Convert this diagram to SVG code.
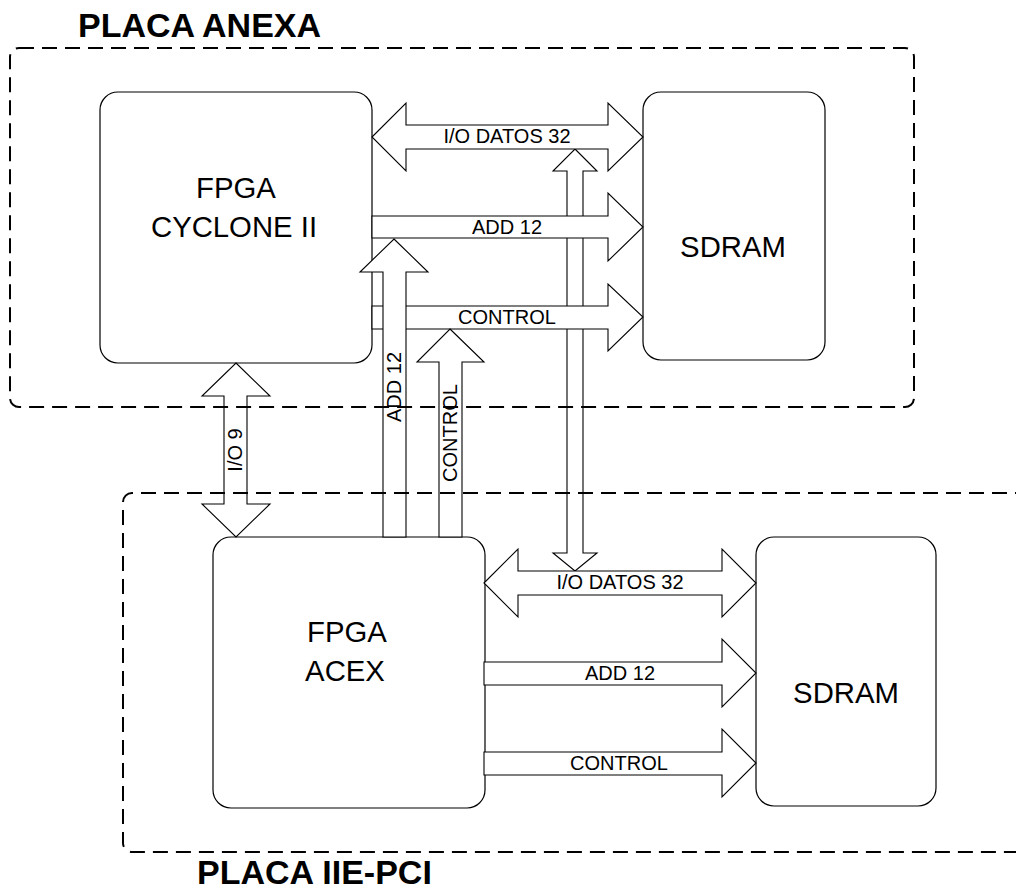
<svg xmlns="http://www.w3.org/2000/svg" width="1016" height="892" viewBox="0 0 1016 892">
<style>
.box{fill:#fff;stroke:#000;stroke-width:1.2}
.arr{fill:#fff;stroke:#000;stroke-width:1.1;stroke-linejoin:miter}
.dash{fill:none;stroke:#000;stroke-width:2;stroke-dasharray:15 8}
.big{font-family:"Liberation Sans",Arial,sans-serif;font-size:29.3px;fill:#000;text-anchor:middle}
.lbl{font-family:"Liberation Sans",Arial,sans-serif;font-size:20px;fill:#000;text-anchor:middle}
.title{font-family:"Liberation Sans",Arial,sans-serif;font-size:34px;font-weight:bold;fill:#000}
</style>
<rect width="1016" height="892" fill="#fff"/>
<g id="fpga-cyclone"><rect class="box" x="100" y="92" width="272" height="271" rx="18"/><text class="big" x="236" y="198">FPGA</text><text class="big" x="234" y="237">CYCLONE II</text></g>
<g id="sdram-top"><rect class="box" x="643" y="92" width="182" height="268" rx="18"/><text class="big" x="733" y="257">SDRAM</text></g>
<g id="fpga-acex"><rect class="box" x="213" y="537" width="272" height="271" rx="18"/><text class="big" x="347" y="642">FPGA</text><text class="big" x="345" y="681">ACEX</text></g>
<g id="sdram-bottom"><rect class="box" x="756" y="537" width="180" height="269" rx="18"/><text class="big" x="846" y="703">SDRAM</text></g>
<g id="connectors">
<polygon class="arr" points="575,149 597,171 583,171 583,553 597,553 575,571 553,553 567,553 567,171 553,171"/>
<polygon class="arr" points="372,137 406,103 406,125 608,125 608,103 643,137 608,171 608,149 406,149 406,171"/>
<polygon class="arr" points="372,216 608,216 608,193 643,227 608,261 608,238 372,238"/>
<polygon class="arr" points="372,306 608,306 608,284 643,317 608,351 608,329 372,329"/>
<polygon class="arr" points="484,583 518,549 518,571 722,571 722,549 756,583 722,617 722,595 518,595 518,617"/>
<polygon class="arr" points="484,662 722,662 722,639 756,673 722,707 722,685 484,685"/>
<polygon class="arr" points="484,752 722,752 722,729 756,763 722,797 722,775 484,775"/>
<polygon class="arr" points="394,239 428,272 406,272 406,537 383,537 383,272 360,272"/>
<polygon class="arr" points="450,329 484,362 462,362 462,537 439,537 439,362 417,362"/>
<polygon class="arr" points="236,363 270,396 247,396 247,504 270,504 236,537 202,504 224,504 224,396 202,396"/>
<text class="lbl" x="507" y="143">I/O DATOS 32</text>
<text class="lbl" x="507" y="234">ADD 12</text>
<text class="lbl" x="507" y="324">CONTROL</text>
<text class="lbl" x="620" y="589">I/O DATOS 32</text>
<text class="lbl" x="620" y="680">ADD 12</text>
<text class="lbl" x="619" y="770">CONTROL</text>
<text class="lbl" transform="translate(235,450) rotate(-90)" x="0" y="7">I/O 9</text>
<text class="lbl" transform="translate(394,387) rotate(-90)" x="0" y="7">ADD 12</text>
<text class="lbl" transform="translate(450,433) rotate(-90)" x="0" y="7">CONTROL</text>
</g>
<g id="placa-anexa"><rect class="dash" x="10" y="48" width="904" height="359" rx="9"/><text class="title" x="78" y="37">PLACA ANEXA</text></g>
<g id="placa-iie-pci"><path class="dash" d="M1030,493 H132 A9,9 0 0 0 123,502 V843 A9,9 0 0 0 132,852 H1030"/><text class="title" x="197" y="884">PLACA IIE-PCI</text></g>
</svg>
